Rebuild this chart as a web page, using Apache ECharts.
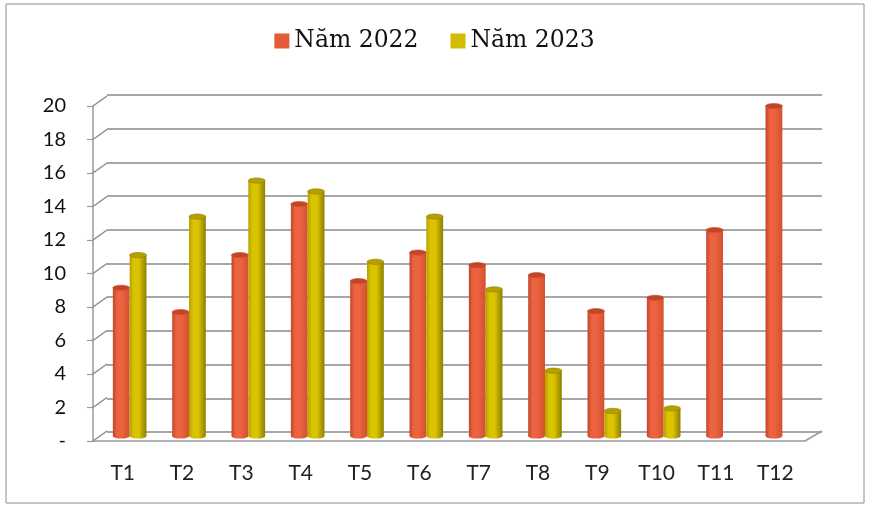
<!DOCTYPE html>
<html>
<head>
    <meta charset="utf-8" />
    <title>Năm 2022 - Năm 2023</title>
    <script src="https://cdn.jsdelivr.net/npm/echarts@6/dist/echarts.min.js"></script>
    <style>
        html, body { margin: 0; padding: 0; background: #fff; }
        #main { width: 869px; height: 511px; }
    </style>
</head>
<body>
<div id="main"></div>
<script>
    // số liệu
    var months = ['T1', 'T2', 'T3', 'T4', 'T5', 'T6', 'T7', 'T8', 'T9', 'T10', 'T11', 'T12'];
    var nam2022 = [8.85, 7.4, 10.8, 13.85, 9.25, 10.95, 10.2, 9.6, 7.45, 8.25, 12.3, 19.7];
    var nam2023 = [10.8, 13.1, 15.25, 14.6, 10.4, 13.1, 8.75, 3.9, 1.5, 1.65, null, null];
    var yTicks = [0, 2, 4, 6, 8, 10, 12, 14, 16, 18, 20];

    var RED = '#E35B38', YELLOW = '#D2BB00';
    var DEPTH_X = 14, DEPTH_Y = -10;   // lệch từ mặt trước ra tường sau
    var BAR_W = 16.8;

    var chart = echarts.init(document.getElementById('main'));

    function cylinder(side, light, dark, edge) {
        return function (params, api) {
            var v = api.value(1);
            if (v == null || isNaN(v)) return;
            var top = api.coord([api.value(0), v]);
            var base = api.coord([api.value(0), 0]);
            var cx = top[0] + DEPTH_X / 2;
            var x0 = side < 0 ? cx - BAR_W : cx;
            var yTop = top[1] + DEPTH_Y / 2;
            var yBase = base[1] + DEPTH_Y / 2;
            var rx = BAR_W / 2, ry = 2.6;
            var grad = new echarts.graphic.LinearGradient(0, 0, 1, 0, [
                { offset: 0, color: dark },
                { offset: 0.25, color: light },
                { offset: 0.55, color: light },
                { offset: 1, color: edge }
            ]);
            return {
                type: 'group',
                children: [
                    { type: 'ellipse', shape: { cx: x0 + rx, cy: yBase, rx: rx, ry: ry }, style: { fill: grad } },
                    { type: 'rect', shape: { x: x0, y: yTop, width: BAR_W, height: yBase - yTop }, style: { fill: grad } },
                    { type: 'ellipse', shape: { cx: x0 + rx, cy: yTop, rx: rx, ry: ry },
                      style: { fill: dark, stroke: edge, lineWidth: 0.6 } }
                ]
            };
        };
    }

    var option = {
        animation: false,
        backgroundColor: '#fff',
        textStyle: { fontFamily: 'Lato' },
        graphic: [{
            type: 'rect',
            shape: { x: 6, y: 4, width: 858, height: 499 },
            style: { fill: 'none', stroke: '#8c8c8c', lineWidth: 1 }
        }],
        legend: {
            top: 24,
            left: 'center',
            icon: 'rect',
            itemWidth: 15,
            itemHeight: 15,
            itemGap: 32,
            textStyle: { fontFamily: 'DejaVu Serif', fontSize: 23.5, color: '#111' },
            data: [
                { name: 'Năm 2022', itemStyle: { color: RED } },
                { name: 'Năm 2023', itemStyle: { color: YELLOW } }
            ]
        },
        grid: [
            // tường sau
            { left: 107, right: 47, top: 95, bottom: 79 },
            // mặt trước
            { left: 93, right: 64, top: 106, bottom: 70 }
        ],
        xAxis: [
            { gridIndex: 0, type: 'category', data: months,
              axisLine: { show: false }, axisTick: { show: false }, axisLabel: { show: false } },
            { gridIndex: 1, type: 'category', data: months,
              axisLine: { lineStyle: { color: '#9a9a9a', width: 1.5 } },
              axisTick: { length: 7, lineStyle: { color: '#9a9a9a', width: 1.2 } },
              axisLabel: { margin: 22, fontSize: 21, color: '#222' } }
        ],
        yAxis: [
            { gridIndex: 0, type: 'value', min: 0, max: 20, interval: 2,
              axisLine: { show: false }, axisTick: { show: false }, axisLabel: { show: false },
              splitLine: { lineStyle: { color: '#8a8a8a', width: 1.6 } } },
            { gridIndex: 1, type: 'value', min: 0, max: 20, interval: 2,
              axisLine: { show: true, lineStyle: { color: '#9a9a9a', width: 1.5 } },
              axisTick: { show: true, length: 6, lineStyle: { color: '#9a9a9a', width: 1.2 } },
              splitLine: { show: false },
              axisLabel: { margin: 27, fontSize: 20, color: '#111',
                  formatter: function (v) { return v === 0 ? '-' : v; } } }
        ],
        series: [
            {
                // đường xiên nối trục trước với tường sau
                type: 'custom',
                silent: true,
                xAxisIndex: 1, yAxisIndex: 1,
                data: yTicks.map(function (v) { return [0, v]; }),
                renderItem: function (params, api) {
                    var p = api.coord([0, api.value(1)]);
                    var x = params.coordSys.x;
                    return { type: 'line', shape: { x1: x, y1: p[1], x2: x + DEPTH_X, y2: p[1] + DEPTH_Y },
                             style: { stroke: '#8a8a8a', lineWidth: 1.5 } };
                }
            },
            {
                type: 'custom',
                silent: true,
                xAxisIndex: 1, yAxisIndex: 1,
                data: [[11, 0]],
                renderItem: function (params, api) {
                    var p = api.coord([0, 0]);
                    var x = params.coordSys.x + params.coordSys.width;
                    return { type: 'line', shape: { x1: x, y1: p[1], x2: x + DEPTH_X + 3, y2: p[1] + DEPTH_Y },
                             style: { stroke: '#9a9a9a', lineWidth: 1.5 } };
                }
            },
            {
                name: 'Năm 2022',
                type: 'custom',
                xAxisIndex: 1, yAxisIndex: 1,
                itemStyle: { color: RED },
                data: nam2022.map(function (v, i) { return [i, v]; }),
                renderItem: cylinder(-1, '#EB6340', '#C24528', '#D4502F')
            },
            {
                name: 'Năm 2023',
                type: 'custom',
                xAxisIndex: 1, yAxisIndex: 1,
                itemStyle: { color: YELLOW },
                data: nam2023.map(function (v, i) { return [i, v]; }),
                renderItem: cylinder(1, '#DAC400', '#B5A000', '#8E7E00')
            }
        ]
    };

    chart.setOption(option);
</script>
</body>
</html>
